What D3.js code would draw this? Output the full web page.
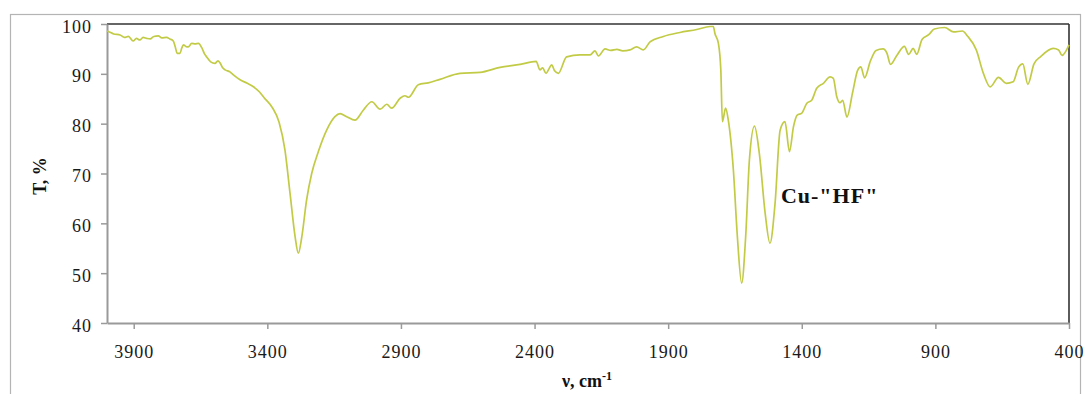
<!DOCTYPE html>
<html><head><meta charset="utf-8">
<script src="https://cdn.jsdelivr.net/npm/d3@7"></script>
<style>html,body{margin:0;padding:0;background:#fff;}svg{display:block;}</style>
</head><body>
<svg id="chart" width="1089" height="394"></svg>
<script>
// wavenumber (cm-1), descending
const wavenumbers = [4000,3995,3975,3951,3935,3920,3902,3890,3877,3865,3851,3838,3825,3808,3795,3777,3765,3752,3745,3737,3727,3720,3714,3705,3696,3683,3670,3658,3645,3635,3627,3612,3596,3585,3577,3567,3558,3540,3527,3502,3475,3452,3430,3412,3381,3356,3334,3315,3296,3284,3271,3253,3234,3209,3178,3147,3128,3103,3072,3041,3009,2978,2953,2935,2903,2885,2872,2835,2798,2754,2679,2604,2529,2454,2394,2380,2370,2357,2346,2336,2325,2311,2280,2230,2192,2174,2161,2136,2115,2092,2070,2043,2018,1993,1968,1918,1856,1793,1743,1731,1725,1712,1703,1697,1685,1675,1656,1641,1625,1610,1596,1577,1559,1537,1519,1500,1481,1463,1446,1431,1417,1400,1381,1363,1344,1319,1294,1282,1269,1257,1247,1231,1210,1191,1179,1165,1143,1122,1096,1081,1068,1043,1016,1000,983,970,950,924,904,865,832,799,780,747,721,695,664,635,609,589,573,554,531,505,459,439,426,400];
// transmittance (%)
const transmittance = [98.6,98.5,98.0,97.8,97.3,97.5,96.6,97.1,96.8,97.3,97.1,97.0,97.5,97.6,97.2,97.3,97.0,96.6,95.5,94.1,94.1,95.2,95.8,95.5,95.4,96.1,96.0,96.1,95.2,94.0,93.4,92.4,92.1,92.6,92.2,91.2,90.8,90.4,89.8,88.8,88.1,87.4,86.4,85.2,83.2,80.3,74.7,66.0,57.3,54.0,57.3,64.7,70.0,74.4,78.7,81.4,82.0,81.4,80.7,82.7,84.4,82.9,83.9,83.1,85.1,85.6,85.3,87.8,88.2,88.9,90.1,90.3,91.3,91.9,92.5,90.8,91.2,90.1,91.0,91.8,90.6,90.1,93.4,93.8,93.8,94.6,93.6,95.0,94.7,94.9,94.6,94.8,95.4,94.8,96.4,97.5,98.3,98.9,99.5,99.5,98.1,96.1,90.8,80.4,83.1,80.7,70.7,57.3,48.0,57.3,72.7,79.5,74.1,62.0,56.0,64.0,78.7,80.4,74.4,79.4,81.7,82.1,84.1,84.7,87.1,88.1,89.4,89.1,85.4,84.2,84.7,81.3,86.2,90.7,91.4,89.2,92.6,94.7,95.0,94.1,91.9,93.8,95.5,93.9,95.1,93.9,96.9,97.9,99.0,99.3,98.4,98.6,97.6,94.8,90.2,87.4,89.3,88.1,88.4,91.3,92.0,87.9,92.0,93.5,95.1,94.8,93.7,95.8];
const xTicks = [3900,3400,2900,2400,1900,1400,900,400];
const yTicks = [40,50,60,70,80,90,100];
const xTitle = "ν, cm";
const xTitleSup = "-1";
const yTitle = "T, %";
const label = "Cu-\"HF\"";

const svg = d3.select("#chart");
const L = 107, R = 1069, T = 24, B = 323;
const x = d3.scaleLinear().domain([4000, 400]).range([L, R]);
const y = d3.scaleLinear().domain([40, 100]).range([B, T]);
const font = "'Liberation Serif','Times New Roman',serif";

// outer frame
svg.append("rect").attr("x", 10.5).attr("y", 14.5).attr("width", 1070).attr("height", 400)
  .attr("fill", "none").attr("stroke", "#b4b4b4").attr("stroke-width", 1.2);

// plot border top/right
svg.append("line").attr("x1", L).attr("x2", R).attr("y1", T).attr("y2", T).attr("stroke", "#333").attr("stroke-width", 1.6);
svg.append("line").attr("x1", R).attr("x2", R).attr("y1", T).attr("y2", B).attr("stroke", "#333").attr("stroke-width", 1.6);

// axes
const xAxis = d3.axisBottom(x).tickValues(xTicks).tickSize(6).tickSizeOuter(0).tickFormat(d3.format("d"));
const gx = svg.append("g").attr("transform", `translate(0,${B})`).call(xAxis);
gx.select(".domain").attr("stroke", "#9a9a9a").attr("stroke-width", 2);
gx.selectAll(".tick line").attr("stroke", "#9a9a9a").attr("stroke-width", 1.5);
gx.selectAll(".tick text").attr("font-family", font).attr("font-size", 18).attr("fill", "#1a1a1a")
  .attr("letter-spacing", "1px").attr("dy", null).attr("y", 35);

const yAxis = d3.axisLeft(y).tickValues(yTicks).tickSize(6).tickSizeOuter(0);
const gy = svg.append("g").attr("transform", `translate(${L},0)`).call(yAxis);
gy.select(".domain").attr("stroke", "#9a9a9a").attr("stroke-width", 2);
gy.selectAll(".tick line").attr("stroke", "#9a9a9a").attr("stroke-width", 1.5);
gy.selectAll(".tick text").attr("font-family", font).attr("font-size", 18).attr("fill", "#1a1a1a")
  .attr("letter-spacing", "1px").attr("x", -15).attr("dy", "0.45em");

// data line
const data = wavenumbers.map((w, i) => ({w, t: transmittance[i]}));
const line = d3.line().x(d => x(d.w)).y(d => y(d.t)).curve(d3.curveMonotoneX);
svg.append("path").datum(data).attr("d", line).attr("fill", "none")
  .attr("stroke", "#c2cb45").attr("stroke-width", 1.7).attr("stroke-linejoin", "round");

// titles
svg.append("text").attr("transform", "translate(46,176) rotate(-90)").attr("text-anchor", "middle")
  .attr("font-family", font).attr("font-weight", "bold").attr("font-size", 18).attr("fill", "#111").text(yTitle);
const xt = svg.append("text").attr("x", 587).attr("y", 387).attr("text-anchor", "middle")
  .attr("font-family", font).attr("font-weight", "bold").attr("font-size", 18).attr("fill", "#111");
xt.append("tspan").text(xTitle);
xt.append("tspan").attr("dy", -7).attr("font-size", 12).text(xTitleSup);

svg.append("text").attr("x", x(1478)).attr("y", 203).attr("font-family", font).attr("font-weight", "bold")
  .attr("font-size", 22).attr("letter-spacing", "1px").attr("fill", "#111").text(label);
</script>
</body></html>
